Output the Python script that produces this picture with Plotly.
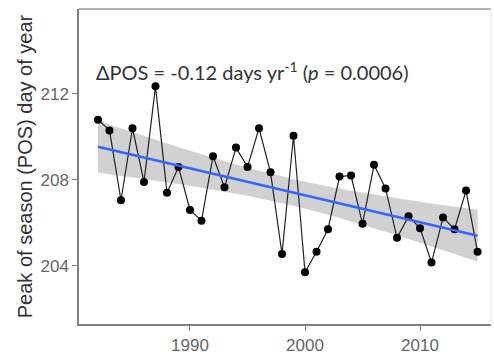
import numpy as np
import plotly.graph_objects as go

years = list(range(1982, 2016))
pos = [210.8, 210.3, 207.05, 210.4, 207.9, 212.35, 207.4, 208.6, 206.6, 206.1,
       209.1, 207.65, 209.5, 208.6, 210.4, 208.35, 204.55, 210.05, 203.7, 204.65,
       205.7, 208.15, 208.2, 205.95, 208.7, 207.6, 205.3, 206.3, 205.75, 204.15,
       206.25, 205.7, 207.5, 204.65]
x_ticks = [1990, 2000, 2010]
y_ticks = [204, 208, 212]
label = "ΔPOS = -0.12 days yr<sup>-1</sup> (<i>p</i> = 0.0006)"
y_title = "Peak of season (POS) day of year"

x = np.array(years, dtype=float)
y = np.array(pos)
n = len(x)
b, a = np.polyfit(x, y, 1)
fit = a + b * x
resid = y - fit
s = np.sqrt(np.sum(resid ** 2) / (n - 2))
xm = x.mean()
se = s * np.sqrt(1 / n + (x - xm) ** 2 / np.sum((x - xm) ** 2))
t = 2.037  # t(0.975, 32)
lo = fit - t * se
hi = fit + t * se

fig = go.Figure()
fig.add_trace(go.Scatter(x=list(x) + list(x[::-1]), y=list(hi) + list(lo[::-1]),
                         fill="toself", fillcolor="rgba(153,153,153,0.45)",
                         line=dict(width=0), hoverinfo="skip", showlegend=False))
fig.add_trace(go.Scatter(x=years, y=pos, mode="lines+markers",
                         line=dict(color="#222222", width=1.2),
                         marker=dict(color="black", size=8), showlegend=False))
fig.add_trace(go.Scatter(x=years, y=fit, mode="lines",
                         line=dict(color="#3366FF", width=2.5), showlegend=False))

fig.add_annotation(x=0.037, y=213.05, xref="paper", yref="y", text=label,
                   showarrow=False, xanchor="left", yanchor="middle",
                   font=dict(family="Lato", size=20, color="#333333"))

fig.add_shape(type="line", xref="paper", yref="paper", x0=0, x1=1, y0=1, y1=1,
              line=dict(color="#999999", width=1.5))
fig.add_shape(type="line", xref="paper", yref="paper", x0=1, x1=1, y0=0, y1=1,
              line=dict(color="#e6e6e6", width=1))

fig.update_layout(
    width=494, height=358,
    margin=dict(l=79, r=3, t=9, b=30),
    paper_bgcolor="white", plot_bgcolor="white",
    xaxis=dict(range=[1980.35, 2016.17], tickvals=x_ticks, showgrid=False,
               zeroline=False, showline=True, linecolor="#808080", linewidth=1.5,
               ticks="outside", ticklen=5, tickcolor="#808080",
               tickfont=dict(family="Liberation Sans", size=17, color="#666666")),
    yaxis=dict(range=[201.29, 215.95], tickvals=y_ticks, showgrid=False,
               zeroline=False, showline=True, linecolor="#808080", linewidth=1.5,
               ticks="outside", ticklen=5, tickcolor="#808080",
               tickfont=dict(family="Liberation Sans", size=17, color="#666666"),
               title=dict(text=y_title, standoff=2,
                          font=dict(family="Liberation Sans", size=20, color="#333333"))),
)
fig.write_html("out.html")
